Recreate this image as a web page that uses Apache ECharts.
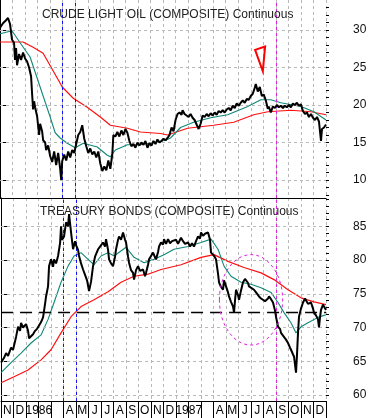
<!DOCTYPE html>
<html><head><meta charset="utf-8">
<script src="https://cdn.jsdelivr.net/npm/echarts@6/dist/echarts.min.js"></script>
<style>html,body{margin:0;padding:0;background:#fff}#c{width:371px;height:418px}</style>
</head><body><div id="c"></div>
<script>
// x positions are months counted from 1 Nov 1985 (0) to 1 Jan 1988 (26)
const monthLabels = ['N','D','1986','','','A','M','J','J','A','S','O','N','D','1987','','','A','M','J','J','A','S','O','N','D'];
const oilTitle = 'CRUDE LIGHT OIL (COMPOSITE) Continuous';
const bondTitle = 'TREASURY BONDS (COMPOSITE) Continuous';
const oilTicks = [10,15,20,25,30];
const bondTicks = [60,65,70,75,80,85];

const oilPrice = [[0,30.3],[0.24,30.9],[0.48,31.3],[0.64,31.6],[0.8,30.8],[0.96,28.7],[1.12,28.3],[1.2,26.0],[1.28,27.6],[1.36,25.3],[1.52,26.8],[1.68,26.0],[1.84,27.0],[2.0,26.2],[2.16,25.8],[2.32,25.0],[2.48,23.8],[2.56,21.5],[2.64,19.4],[2.72,20.5],[2.8,19.7],[2.96,18.5],[3.12,16.0],[3.2,17.5],[3.36,16.5],[3.44,15.3],[3.6,15.0],[3.68,14.0],[3.84,14.6],[4.0,13.2],[4.16,12.4],[4.32,13.8],[4.48,12.0],[4.64,13.6],[4.8,11.5],[4.88,10.0],[4.96,12.5],[5.12,13.4],[5.28,12.6],[5.44,13.8],[5.6,13.0],[5.76,14.0],[5.92,13.6],[6.08,14.8],[6.24,16.0],[6.4,16.4],[6.56,17.3],[6.72,15.5],[6.88,14.5],[7.04,13.6],[7.2,14.2],[7.36,13.4],[7.52,13.8],[7.68,13.0],[7.84,13.8],[8.0,12.2],[8.16,11.2],[8.32,11.8],[8.48,11.3],[8.64,12.6],[8.8,11.5],[8.96,13.5],[9.04,16.0],[9.2,15.8],[9.36,16.4],[9.52,15.8],[9.68,16.6],[9.84,16.0],[10.0,16.8],[10.16,16.3],[10.32,15.2],[10.48,14.5],[10.64,14.8],[10.8,14.3],[10.96,15.0],[11.12,14.6],[11.28,15.0],[11.44,14.7],[11.6,15.2],[11.76,14.3],[11.92,14.9],[12.08,14.6],[12.24,15.2],[12.4,14.8],[12.56,15.4],[12.72,15.0],[12.88,15.2],[13.04,15.5],[13.2,15.3],[13.36,15.6],[13.52,16.0],[13.68,17.0],[13.84,16.5],[14.0,18.0],[14.16,18.8],[14.32,19.0],[14.48,18.7],[14.56,19.3],[14.72,18.8],[14.88,18.6],[15.04,18.4],[15.2,18.8],[15.36,18.3],[15.52,18.0],[15.68,17.4],[15.84,16.8],[16.0,17.5],[16.16,18.6],[16.32,18.4],[16.48,18.8],[16.64,18.5],[16.8,18.9],[16.96,18.6],[17.12,19.0],[17.28,18.7],[17.44,19.2],[17.6,19.0],[17.76,19.3],[17.92,19.0],[18.08,19.4],[18.24,19.6],[18.4,19.3],[18.56,19.9],[18.72,19.6],[18.88,20.2],[19.04,19.9],[19.2,20.3],[19.36,20.6],[19.52,20.3],[19.68,20.8],[19.84,20.7],[20.0,21.2],[20.16,21.5],[20.32,22.3],[20.4,22.8],[20.56,21.8],[20.72,22.4],[20.88,21.2],[21.04,21.4],[21.2,20.6],[21.36,19.5],[21.44,19.8],[21.6,19.0],[21.76,19.8],[21.92,19.6],[22.08,20.0],[22.24,19.7],[22.4,19.9],[22.56,19.6],[22.72,19.9],[22.88,19.7],[23.04,20.0],[23.2,19.7],[23.36,20.2],[23.52,20.0],[23.68,20.3],[23.84,19.9],[24.0,20.1],[24.16,19.2],[24.32,18.8],[24.48,19.0],[24.64,18.4],[24.8,18.8],[24.96,18.3],[25.12,18.0],[25.28,18.4],[25.44,17.8],[25.52,16.5],[25.6,15.2],[25.68,16.8],[25.84,17.0],[26.0,17.4]];
const oilFastMA = [[0,29.5],[0.96,29.9],[1.6,28.3],[2.4,26.4],[3.2,22.4],[4.0,18.4],[4.4,16.3],[4.8,15.6],[5.36,14.9],[6.0,14.3],[6.64,14.9],[7.76,14.4],[8.56,13.3],[8.8,13.1],[9.2,14.0],[10.16,14.7],[11.2,14.7],[13.2,15.3],[13.6,15.6],[14.4,17.0],[15.44,17.7],[16.8,18.3],[18.16,18.7],[19.76,19.8],[20.8,20.7],[21.6,20.7],[22.4,20.3],[24.0,19.8],[25.04,19.1],[26,18.0]];
const oilSlowMA = [[0,28.4],[1.84,28.4],[2.64,27.7],[3.44,26.9],[4.8,22.9],[4.96,22.4],[5.84,20.9],[6.96,19.7],[8.0,18.4],[8.8,17.3],[10.16,16.9],[11.2,16.4],[12.8,16.2],[13.36,16.0],[14.96,16.9],[17.04,17.3],[18.64,17.7],[20.24,18.7],[21.36,19.1],[23.2,19.3],[24.8,19.1],[26,18.7]];

const bondPrice = [[0,64.8],[0.24,65.5],[0.4,66.2],[0.56,65.8],[0.8,67.0],[0.96,66.7],[1.2,68.6],[1.36,70.1],[1.52,69.5],[1.6,70.7],[1.76,70.0],[2.0,70.5],[2.16,69.5],[2.24,68.4],[2.4,68.2],[2.56,69.0],[2.72,69.5],[2.88,69.8],[3.04,70.3],[3.2,70.8],[3.36,71.5],[3.52,73.5],[3.6,74.6],[3.76,76.1],[3.84,79.1],[4.0,80.1],[4.16,79.0],[4.24,80.1],[4.4,79.5],[4.56,80.6],[4.72,82.5],[4.8,85.0],[4.88,83.0],[5.04,83.5],[5.2,85.6],[5.36,85.0],[5.44,86.8],[5.6,84.1],[5.76,81.6],[5.92,82.8],[6.0,82.2],[6.16,81.5],[6.24,80.6],[6.4,79.5],[6.56,78.6],[6.72,77.8],[6.88,77.0],[7.04,75.4],[7.2,76.8],[7.36,79.1],[7.52,80.5],[7.76,81.6],[7.92,82.0],[8.16,82.6],[8.32,82.0],[8.4,83.1],[8.56,81.5],[8.64,80.1],[8.8,79.5],[8.96,79.1],[9.12,80.5],[9.2,81.6],[9.36,83.0],[9.44,83.5],[9.6,83.0],[9.76,84.1],[9.92,83.0],[10.0,82.6],[10.16,80.5],[10.24,79.6],[10.4,78.5],[10.56,78.1],[10.64,77.1],[10.8,78.5],[10.96,79.1],[11.12,78.4],[11.36,78.6],[11.52,77.6],[11.6,78.1],[11.76,79.3],[11.84,80.1],[12.0,80.6],[12.16,81.1],[12.32,80.4],[12.4,80.1],[12.56,81.2],[12.64,82.0],[12.8,82.6],[12.96,82.3],[13.04,83.1],[13.2,82.4],[13.36,83.1],[13.52,82.5],[13.68,82.8],[13.84,82.6],[14.0,83.0],[14.16,82.4],[14.4,83.3],[14.56,82.8],[14.72,82.4],[14.96,82.6],[15.12,82.0],[15.28,82.5],[15.44,82.0],[15.6,82.8],[15.76,83.5],[15.92,83.2],[16.0,84.1],[16.16,83.6],[16.32,83.9],[16.56,84.1],[16.72,83.0],[16.8,81.1],[16.96,80.8],[17.12,80.4],[17.2,80.1],[17.36,78.0],[17.44,76.7],[17.6,76.0],[17.76,75.6],[17.84,77.0],[18.0,76.1],[18.16,75.2],[18.24,74.6],[18.4,73.8],[18.56,73.1],[18.64,72.2],[18.72,74.0],[18.8,75.6],[18.96,74.8],[19.04,74.1],[19.2,75.5],[19.36,76.7],[19.52,77.2],[19.6,77.1],[19.76,76.6],[19.84,76.1],[20.0,76.3],[20.24,75.6],[20.4,75.2],[20.64,74.6],[20.8,74.3],[20.96,74.1],[21.12,73.9],[21.2,73.7],[21.36,74.3],[21.44,74.6],[21.6,74.2],[21.76,73.7],[21.92,72.5],[22.0,71.6],[22.16,70.1],[22.32,69.8],[22.4,69.2],[22.56,68.8],[22.64,68.6],[22.8,68.2],[22.96,67.7],[23.12,67.0],[23.2,66.7],[23.36,66.0],[23.44,65.7],[23.52,64.5],[23.6,63.3],[23.68,66.0],[23.76,69.2],[23.84,71.6],[24.0,72.8],[24.16,73.7],[24.32,74.3],[24.4,74.1],[24.56,73.5],[24.8,73.7],[24.96,72.8],[25.04,72.2],[25.2,71.8],[25.36,71.2],[25.44,70.0],[25.52,71.5],[25.6,72.6],[25.76,73.4],[25.84,73.1],[26.0,72.6]];
const bondFastMA = [[0,63.3],[0.8,64.8],[1.6,66.2],[2.4,67.7],[3.2,68.9],[3.76,71.2],[4.24,73.7],[4.8,76.7],[5.36,79.1],[5.84,80.6],[6.4,81.1],[6.96,80.1],[7.44,79.3],[8.0,80.6],[8.56,81.1],[9.04,80.6],[10.0,81.9],[10.64,80.4],[11.44,79.6],[12.24,80.1],[13.04,80.8],[13.84,81.6],[14.96,82.0],[16.0,82.6],[16.8,83.1],[17.36,81.6],[17.84,79.1],[18.4,77.6],[19.2,76.7],[20.0,76.4],[20.8,75.9],[21.6,75.2],[22.16,73.7],[22.64,72.2],[23.2,70.7],[23.6,69.2],[24.0,70.1],[24.56,70.7],[25.36,71.5],[26,71.9]];
const bondSlowMA = [[0,61.8],[1.04,62.7],[2.16,63.7],[3.2,65.2],[4.0,66.7],[4.8,69.2],[5.6,71.6],[6.4,73.1],[7.44,74.1],[8.56,75.3],[9.6,76.7],[10.64,77.6],[11.76,77.9],[12.8,78.6],[14.4,79.3],[16.0,80.4],[17.04,80.8],[18.16,79.8],[19.44,78.9],[20.8,78.1],[21.84,77.1],[22.96,75.6],[24.0,74.4],[25.04,73.8],[26,73.4]];

const blueMonths = [5, 6];      // 1 Apr 1986, 1 May 1986
const magentaMonths = [22];     // 1 Sep 1987
const bondLevel = 72.25;
const bondEllipse = [[20.0, 74.1, 2.53, 6.7]]; // centre month, centre value, x radius (months), y radius
const oilArrow = [[20.96, 24.5]];               // tip of the red marker

const sans = "'Liberation Sans',Arial,sans-serif";

function range(a, b) { const r = []; for (let v = a; v <= b; v++) r.push(v); return r; }

function vLines() {
  return [].concat(
    blueMonths.map(m => ({ xAxis: m, lineStyle: { color: '#1010ff', type: [3, 3], width: 1 } })),
    magentaMonths.map(m => ({ xAxis: m, lineStyle: { color: '#e020e0', type: [3, 3], width: 1 } }))
  );
}
function gridSeries(xi, yi, ticks, extra) {
  return {
    type: 'line', xAxisIndex: xi, yAxisIndex: yi, data: [], silent: true, z: 1,
    markLine: {
      silent: true, symbol: 'none', label: { show: false }, animation: false,
      data: ticks.map(v => ({ yAxis: v, lineStyle: { color: '#b8b8b8', type: [3, 3], width: 1 } }))
        .concat(vLines()).concat(extra || [])
    }
  };
}
function line(xi, yi, data, color, width, z) {
  return { type: 'line', xAxisIndex: xi, yAxisIndex: yi, data, showSymbol: false, symbol: 'none',
    lineStyle: { color, width }, z, silent: true };
}
function xVal(gi, showLine) {
  return { type: 'value', gridIndex: gi, min: 0, max: 26, interval: 1,
    axisLine: { show: showLine, onZero: false, lineStyle: { color: '#000', width: 1 } },
    axisTick: { show: false }, axisLabel: { show: false },
    splitLine: { show: true, lineStyle: { color: '#b8b8b8', type: [3, 3], width: 1 } } };
}
function yMajor(gi, min, max, ticks) {
  return { type: 'value', gridIndex: gi, position: 'right', min, max,
    axisLine: { show: true, lineStyle: { color: '#000', width: 1 } },
    axisTick: { show: true, customValues: ticks, length: 7, lineStyle: { color: '#000' } },
    axisLabel: { show: true, customValues: ticks, margin: 27, color: '#111', fontSize: 12, fontFamily: sans },
    splitLine: { show: false } };
}
function yMinor(gi, min, max, vals) {
  return { type: 'value', gridIndex: gi, position: 'right', min, max,
    axisLine: { show: false },
    axisTick: { show: true, customValues: vals, length: 3, lineStyle: { color: '#000' } },
    axisLabel: { show: false }, splitLine: { show: false } };
}

const chart = echarts.init(document.getElementById('c'), null, { renderer: 'canvas' });
chart.setOption({
  animation: false,
  backgroundColor: '#fff',
  title: [
    { text: oilTitle, left: 37, top: 4, textStyle: { fontFamily: sans, fontSize: 12, fontWeight: 'normal', color: '#222' } },
    { text: bondTitle, left: 35, top: 201, textStyle: { fontFamily: sans, fontSize: 12, fontWeight: 'normal', color: '#222' } }
  ],
  grid: [
    { left: 0, right: 45, top: 0, height: 198 },
    { left: 0, right: 45, top: 198, height: 203 }
  ],
  xAxis: [
    xVal(0, true),
    xVal(1, true),
    { type: 'category', gridIndex: 1, position: 'bottom', data: monthLabels, boundaryGap: true,
      axisLine: { show: false },
      axisTick: { show: true, interval: 0, length: 17, lineStyle: { color: '#000' } },
      axisLabel: { show: true, interval: 0, margin: 4, color: '#000', fontSize: 12, fontFamily: sans,
        formatter: v => /^\d{4}$/.test(v) ? '{y|' + v + '}' : v,
        rich: { y: { fontSize: 12, fontFamily: sans, color: '#000', padding: [0, 0, 0, 13] } } },
      splitLine: { show: false } }
  ],
  yAxis: [
    yMajor(0, 7.6, 34, oilTicks),
    yMinor(0, 7.6, 34, range(8, 33)),
    yMajor(1, 59.1, 89.2, bondTicks),
    yMinor(1, 59.1, 89.2, range(60, 89))
  ],
  series: [
    gridSeries(0, 0, oilTicks),
    line(0, 0, oilSlowMA, '#ff1010', 1.2, 3),
    line(0, 0, oilFastMA, '#108878', 1.1, 4),
    line(0, 0, oilPrice, '#000', 2, 5),
    {
      type: 'custom', xAxisIndex: 0, yAxisIndex: 0, data: oilArrow, z: 6, silent: true,
      renderItem: (params, api) => {
        const p = api.coord([api.value(0), api.value(1)]);
        return { type: 'polygon', shape: { points: [[p[0] - 7.7, p[1] - 21.4], [p[0] + 2.3, p[1] - 24.7], [p[0], p[1]]] },
          style: { fill: 'rgba(255,255,255,0)', stroke: '#ff0000', lineWidth: 2 } };
      }
    },
    gridSeries(1, 2, bondTicks, [{ yAxis: bondLevel, lineStyle: { color: '#000', type: [12, 7], width: 1.3 } }]),
    line(1, 2, bondSlowMA, '#ff1010', 1.2, 3),
    line(1, 2, bondFastMA, '#108878', 1.1, 4),
    line(1, 2, bondPrice, '#000', 2, 5),
    {
      type: 'custom', xAxisIndex: 1, yAxisIndex: 2, data: bondEllipse, z: 6, silent: true,
      renderItem: (params, api) => {
        const c = api.coord([api.value(0), api.value(1)]);
        const s = api.size([api.value(2), api.value(3)]);
        return { type: 'ellipse', shape: { cx: c[0], cy: c[1], rx: s[0], ry: s[1] },
          style: { fill: 'rgba(255,255,255,0)', stroke: '#e020e0', lineWidth: 1, lineDash: [3, 3] } };
      }
    }
  ]
});
</script></body></html>
